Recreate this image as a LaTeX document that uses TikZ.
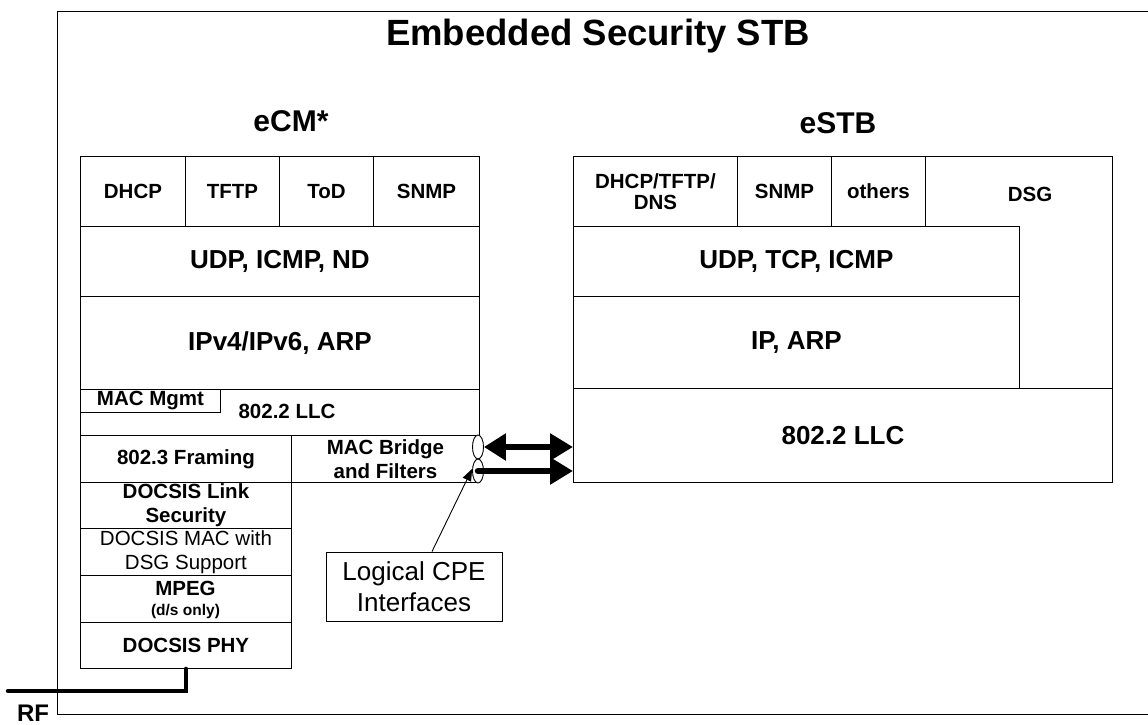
\documentclass[tikz,border=0pt]{standalone}
\usepackage{fontspec}
\setmainfont{Liberation Sans}
\usetikzlibrary{arrows.meta,shapes.geometric}
\newcommand\ftitle{\fontsize{36.5}{42}\selectfont\bfseries}
\newcommand\fhead{\fontsize{30}{34}\selectfont\bfseries}
\newcommand\fbig{\fontsize{26}{30}\selectfont\bfseries}
\newcommand\fcell{\fontsize{20.5}{23.7}\selectfont\bfseries}
\newcommand\fcellr{\fontsize{20.5}{23.7}\selectfont}
\newcommand\fnote{\fontsize{15.5}{18}\selectfont\bfseries}
\newcommand\fcallout{\fontsize{26}{31}\selectfont}
\newcommand\frf{\fontsize{24}{28}\selectfont\bfseries}
\begin{document}
\begin{tikzpicture}[x=1pt,y=-1pt,
  box/.style={draw, line width=0.9pt, inner sep=0pt, anchor=north west, align=center, font=\fcell},
  bigbox/.style={box, font=\fbig},
  tightbox/.style={box, font={\fcell\baselineskip=21pt\lineskiplimit=-30pt}},
  lbl/.style={inner sep=0pt, align=center},
  port/.style={draw, ellipse, line width=0.9pt, fill=white, minimum width=11pt, minimum height=24pt, inner sep=0pt},
  fat/.style={line width=6.5pt},
  thinptr/.style={line width=0.9pt, -{Triangle[length=12pt,width=9pt]}}
]
\useasboundingbox (0,0) rectangle (1148,725);

% outer frame
\coordinate (f1) at (1148,12);
\coordinate (f2) at (57,12);
\coordinate (f3) at (57,714);
\coordinate (f4) at (1148,714);
\draw[line width=1pt] (f1) -- (f2) -- (f3) -- (f4);

% headings
\node[lbl, font=\ftitle, anchor=base] (title) at (598,46) {Embedded Security STB};
\node[lbl, font=\fhead, anchor=base] (ecmh) at (291,131) {eCM*};
\node[lbl, font=\fhead, anchor=base] (estbh) at (838,133) {eSTB};

% ---------- eCM stack ----------
\node[box, minimum width=105pt, minimum height=70pt] (dhcp) at (80,156) {DHCP};
\node[box, minimum width=94pt, minimum height=70pt] (tftp) at (185,156) {TFTP};
\node[box, minimum width=94pt, minimum height=70pt] (tod) at (279,156) {ToD};
\node[box, minimum width=106pt, minimum height=70pt] (snmpa) at (373,156) {SNMP};
\node[bigbox, minimum width=399pt, minimum height=70pt] (udpa) at (80,226) {UDP, ICMP, ND};
\node[bigbox, minimum width=399pt, minimum height=93pt] (ipa) at (80,296) {IPv4/IPv6, ARP};
\node[box, minimum width=399pt, minimum height=46pt] (llca) at (80,389) {};
\node[lbl, font=\fcell] (llcat) at (287,411) {802.2 LLC};
\node[box, minimum width=140pt, minimum height=23pt] (macm) at (80,389) {MAC Mgmt};
\node[box, minimum width=211pt, minimum height=47pt] (fram) at (80,435) {802.3 Framing};
\node[box, minimum width=188pt, minimum height=47pt] (bridge) at (291,435) {MAC Bridge\\and Filters};
\node[box, minimum width=211pt, minimum height=46pt] (lsec) at (80,482) {DOCSIS Link\\Security};
\node[box, font=\fcellr, minimum width=211pt, minimum height=47pt] (dmac) at (80,528) {DOCSIS MAC with\\DSG Support};
\node[box, minimum width=211pt, minimum height=47pt] (mpeg) at (80,575) {};
\node[lbl, font=\fcell, anchor=base] (mpegt) at (185.5,595) {MPEG};
\node[lbl, font=\fnote, anchor=base] (mpegn) at (185.5,615) {(d/s only)};
\node[box, minimum width=211pt, minimum height=46pt] (phy) at (80,622) {DOCSIS PHY};

% ---------- eSTB stack ----------
\node[box, minimum width=539pt, minimum height=326pt] (estb) at (573,156) {};
\node[lbl, font=\fcell] (dsg) at (1030,194) {DSG};
\node[tightbox, minimum width=164pt, minimum height=70pt] (dhcpb) at (573,156) {DHCP/TFTP/\\DNS};
\node[box, minimum width=94pt, minimum height=70pt] (snmpb) at (737,156) {SNMP};
\node[box, minimum width=94pt, minimum height=70pt] (others) at (831,156) {others};
\node[bigbox, minimum width=446pt, minimum height=70pt] (udpb) at (573,226) {UDP, TCP, ICMP};
\node[bigbox, minimum width=446pt, minimum height=92pt] (ipb) at (573,296) {IP, ARP};
\node[bigbox, minimum width=539pt, minimum height=94pt] (llcb) at (573,388) {802.2 LLC};

% ---------- logical CPE interfaces ----------
\node[port] (ifa) at (478,447) {};
\node[port] (ifb) at (478,471) {};
\draw[fat, {Triangle[length=22pt,width=26pt]}-{Triangle[length=23pt,width=26pt]}] (ifa.east) -- (ifa.east -| llcb.west);
\draw[fat, line cap=round, -{Triangle[length=23pt,width=26pt]}] (ifb.center) -- (ifb.center -| llcb.west);

\node[draw, line width=0.9pt, font=\fcallout, align=center, minimum width=176pt, minimum height=69pt, inner sep=0pt] (cpe) at (414,586.5) {Logical CPE\\Interfaces};
\draw[thinptr] ([xshift=18pt]cpe.north) -- (ifb.160);

% ---------- RF ----------
\coordinate (rfend) at (8,691);
\draw[line width=4.5pt, line cap=round] (rfend) -- (phy.south |- rfend) -- (phy.south);
\node[lbl, font=\frf, anchor=base] (rf) at (33,721) {RF};
\end{tikzpicture}
\end{document}
